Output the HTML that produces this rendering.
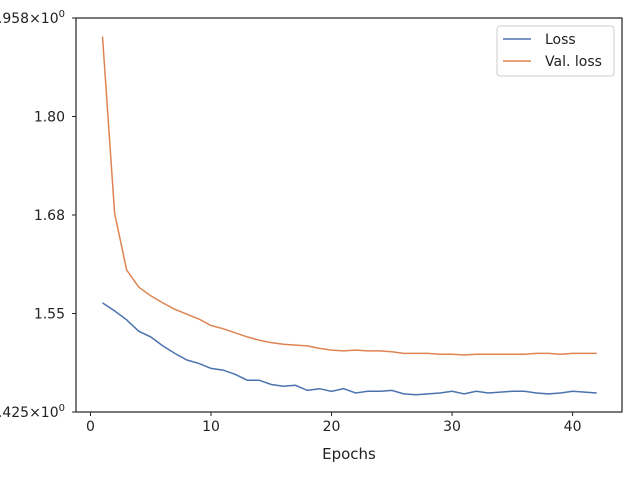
<!DOCTYPE html>
<html><head><meta charset="utf-8"><style>
body{margin:0;background:#fff;}
svg{display:block;font-family:"DejaVu Sans","Liberation Sans",sans-serif;}
</style></head><body>
<svg id="chart" width="640" height="480"></svg>
<script>
const epochs = Array.from({length:42},(_,i)=>i+1);
const lossValues = [1.556,1.546,1.535,1.521,1.514,1.503,1.494,1.486,1.482,1.476,1.474,1.469,1.462,1.462,1.457,1.455,1.456,1.450,1.452,1.449,1.452,1.447,1.449,1.449,1.450,1.446,1.445,1.446,1.447,1.449,1.446,1.449,1.447,1.448,1.449,1.449,1.447,1.446,1.447,1.449,1.448,1.447];
const valLossValues = [1.929,1.673,1.598,1.576,1.565,1.556,1.548,1.542,1.536,1.528,1.524,1.519,1.514,1.510,1.507,1.505,1.504,1.503,1.500,1.498,1.497,1.498,1.497,1.497,1.496,1.494,1.494,1.494,1.493,1.493,1.492,1.493,1.493,1.493,1.493,1.493,1.494,1.494,1.493,1.494,1.494,1.494];
const xTicks = [0,10,20,30,40];
const yMin = 1.425, yMax = 1.958;
const yTickLabels = ["1.55","1.68","1.80"];
const seriesNames = ["Loss","Val. loss"];

const NS="http://www.w3.org/2000/svg";
const svg=document.getElementById('chart');
const L=76,R=622,T=18,B=412;
const xMin=-1.2,xMax=44.1;
function xs(v){return L+(v-xMin)/(xMax-xMin)*(R-L);}
function ys(v){return B-Math.log(v/yMin)/Math.log(yMax/yMin)*(B-T);}
function mk(tag,attrs,parent){const e=document.createElementNS(NS,tag);for(const k in attrs)e.setAttribute(k,attrs[k]);(parent||svg).appendChild(e);return e;}

// x ticks
xTicks.forEach(t=>{
  const x=xs(t);
  const tk=mk('line',{x1:x,x2:x,y1:B,y2:B+4,stroke:'#222','stroke-width':1});
  
  
  const tx=mk('text',{x:x,y:B+19,'text-anchor':'middle','font-size':14,fill:'#222'});
  tx.textContent=t;
  
  
});
// y ticks (geometric)
const r=Math.pow(yMax/yMin,1/4);
yTickLabels.forEach((lab,i)=>{
  const v=yMin*Math.pow(r,i+1);
  const y=ys(v);
  const tk=mk('line',{x1:L-4,x2:L,y1:y,y2:y,stroke:'#222','stroke-width':1});
  
  
  const tx=mk('text',{x:L-11,y:y+5,'text-anchor':'end','font-size':14,fill:'#222'});
  tx.textContent=lab;
  
  
});
[[yMax,'1.958'],[yMin,'1.425']].forEach(([v,lab])=>{
  const y=ys(v);
  const tk=mk('line',{x1:L-4,x2:L,y1:y,y2:y,stroke:'#222','stroke-width':1});
  
  
  const tx=mk('text',{x:L-11,y:y+5,'text-anchor':'end','font-size':14,fill:'#222'});
  
  
  tx.innerHTML=lab+'×10<tspan dy="-6" font-size="10">0</tspan>';
});

function line(vals,color,name){
  const d=vals.map((v,i)=>(i?'L':'M')+xs(epochs[i]).toFixed(1)+','+ys(v).toFixed(1)).join(' ');
  const p=mk('path',{d:d,fill:'none',stroke:color,'stroke-width':1.5});
  
  
}
line(lossValues,'#4c72b0','loss-line');
line(valLossValues,'#dd8452','val-loss-line');

const frame=mk('rect',{x:L,y:T,width:R-L,height:B-T,fill:'none',stroke:'#222','stroke-width':1.2});



const xl=mk('text',{x:(L+R)/2,y:459,'text-anchor':'middle','font-size':15,fill:'#222'});
xl.textContent='Epochs';



// legend
const lg=mk('g',{});


mk('rect',{x:497,y:26,width:117,height:50,rx:3,fill:'#fff',stroke:'#ccc','stroke-width':1},lg);
['#4c72b0','#dd8452'].forEach((c,i)=>{
  const y=39+i*22;
  const ln=mk('line',{x1:503,x2:531,y1:y,y2:y,stroke:c,'stroke-width':1.5},lg);
  
  
  const t=mk('text',{x:545,y:y+5,'font-size':14,fill:'#222'},lg);
  t.textContent=seriesNames[i];
  
  
});
</script>
</body></html>
